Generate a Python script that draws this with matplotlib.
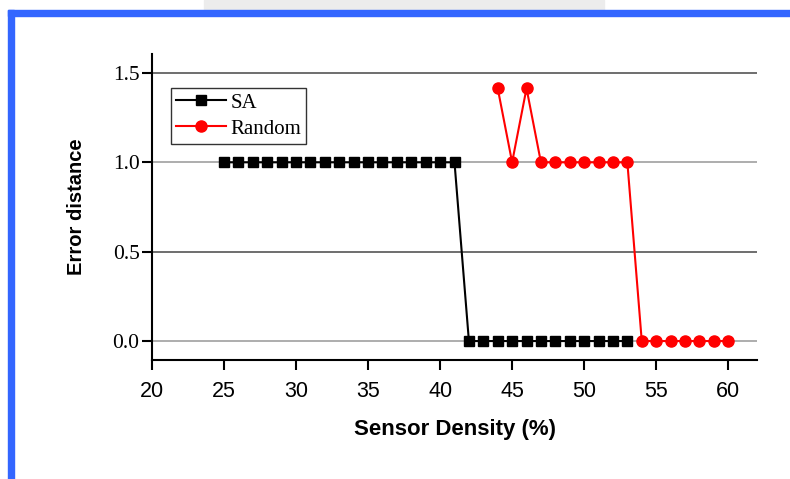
import numpy as np
import matplotlib.pyplot as plt
from matplotlib.patches import Rectangle

# data
sa_x = list(range(25, 54))
sa_y = [1.0] * 17 + [0.0] * 12

rand_x = list(range(44, 61))
rand_y = [1.414, 1.0, 1.414, 1.0, 1.0, 1.0, 1.0, 1.0, 1.0, 1.0,
          0.0, 0.0, 0.0, 0.0, 0.0, 0.0, 0.0]

x_ticks = [20, 25, 30, 35, 40, 45, 50, 55, 60]
y_ticks = [0.0, 0.5, 1.0, 1.5]

fig = plt.figure(figsize=(7.9, 4.79), dpi=100)

# slide frame: blue bars on top and left, faint watermark strip
fig.patches.append(Rectangle((204 / 790, 1 - 10 / 479), 400 / 790, 10 / 479,
                             transform=fig.transFigure, color='#ececec', zorder=0))
fig.patches.append(Rectangle((8 / 790, 1 - 16 / 479), 782 / 790, 6 / 479,
                             transform=fig.transFigure, color='#3366ff', zorder=1))
fig.patches.append(Rectangle((8 / 790, 0), 6 / 790, 1 - 10 / 479,
                             transform=fig.transFigure, color='#3366ff', zorder=1))

ax = fig.add_axes([152 / 790, 1 - 360 / 479, 605 / 790, 306 / 479])

grid_colors = {0.0: '#a0a0a0', 0.5: '#555555', 1.0: '#a0a0a0', 1.5: '#555555'}
for yv in y_ticks:
    ax.axhline(yv, color=grid_colors[yv], lw=1.2, zorder=1)

ax.plot(sa_x, sa_y, color='black', lw=1.5, marker='s', ms=6.5, mec='black',
        label='SA', zorder=3)
ax.plot(rand_x, rand_y, color='red', lw=1.5, marker='o', ms=8, mec='red',
        label='Random', zorder=4)

ax.set_xlim(20, 62)
ax.set_ylim(-0.106, 1.606)
ax.set_xticks(x_ticks)
ax.set_yticks(y_ticks)
ax.set_yticklabels([f'{v:.1f}' for v in y_ticks], family='Liberation Serif', fontsize=15.5)
ax.set_xticklabels([str(v) for v in x_ticks], family='Liberation Sans', fontsize=15.5)
ax.tick_params(axis='y', direction='out', length=7, width=1.5, pad=2)
ax.tick_params(axis='x', direction='out', length=7, width=1.5, pad=8)

for side in ['top', 'right']:
    ax.spines[side].set_visible(False)
for side in ['left', 'bottom']:
    ax.spines[side].set_linewidth(1.5)

ax.set_xlabel('Sensor Density (%)', family='Liberation Sans', fontweight='bold',
              fontsize=16, labelpad=12)
ax.set_ylabel('Error distance', family='Liberation Sans', fontweight='bold',
              fontsize=14.5, labelpad=19)

leg = ax.legend(loc='upper left', bbox_to_anchor=(19 / 605, 1 - 34 / 306),
                prop={'family': 'Liberation Serif', 'size': 15},
                frameon=True, fancybox=False, borderpad=0.25, labelspacing=0.3,
                handlelength=2.4, handletextpad=0.2, borderaxespad=0)
leg.get_frame().set_edgecolor('black')
leg.get_frame().set_linewidth(1.0)

fig.savefig('out.png', dpi=100)
